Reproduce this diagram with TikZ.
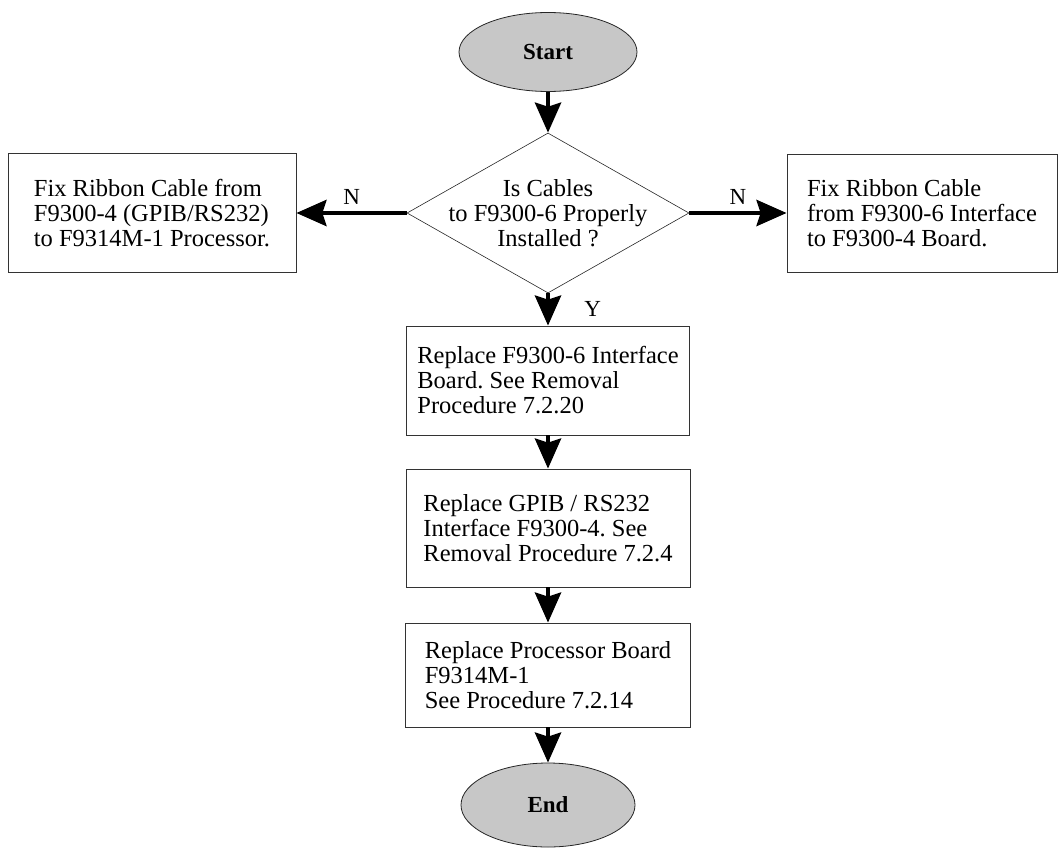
\documentclass[tikz,border=0pt]{standalone}
\usepackage{fontspec}
\setmainfont{Liberation Serif}
\usepackage{tikz}
\usetikzlibrary{arrows.meta,positioning,shapes.geometric}
\frenchspacing

\begin{document}
\begin{tikzpicture}[x=1pt,y=-1pt,
    every node/.style={font=\fontsize{24.5}{25}\selectfont},
    terminal/.style={ellipse, draw=black!85, line width=0.8pt, fill=black!22,
      font=\fontsize{23}{24}\selectfont\bfseries},
    procbox/.style={rectangle, draw=black!80, line width=0.8pt, align=left, inner sep=0pt},
    decision/.style={diamond, draw=black!85, line width=0.6pt, inner sep=0pt},
    flow/.style={-{Stealth[length=30pt,width=26pt,inset=4pt]}, line width=4.5pt},
    answer/.style={inner sep=0pt, font=\fontsize{23}{24}\selectfont}]
    \useasboundingbox (0,0) rectangle (1059,848);
    % Start
    \node[terminal, minimum width=178pt, minimum height=79pt] (start) at (548,52) {Start};
    % Question
    \node[decision, minimum width=282pt, minimum height=160pt] (query) at (548,213) {};
    \node[align=center, inner sep=0pt] (querytext) at (query.center)
      {Is Cables\\to F9300-6 Properly\\Installed ?};
    % Side fixes
    \node[procbox, minimum width=288pt, minimum height=119pt] (fixleft) at (152,213)
      {Fix Ribbon Cable from\\F9300-4 (GPIB/RS232)\\to F9314M-1 Processor.};
    \node[procbox, minimum width=270pt, minimum height=118pt] (fixright) at (922,213)
      {Fix Ribbon Cable\\from F9300-6 Interface\\to F9300-4 Board.};
    % Replacement steps
    \node[procbox, minimum width=283pt, minimum height=109pt] (board) at (548,380.5)
      {Replace F9300-6 Interface\\Board. See Removal\\Procedure 7.2.20};
    \node[procbox, minimum width=284pt, minimum height=118pt] (gpib) at (548,528)
      {Replace GPIB / RS232\\Interface F9300-4. See\\Removal Procedure 7.2.4};
    \node[procbox, minimum width=285pt, minimum height=104pt] (cpu) at (548,675)
      {Replace Processor Board\\F9314M-1\\See Procedure 7.2.14};
    % End
    \node[terminal, minimum width=174pt, minimum height=84pt] (finish) at (548,805) {End};
    % Arrows
    \draw[flow] (start) -- (query);
    \draw[flow] (query.west) -- node[answer, above=6pt] (noleft) {N} (fixleft.east);
    \draw[flow] (query.east) -- node[answer, above=6pt] (noright) {N} (fixright.west);
    \draw[flow] (query.south) -- node[answer, right=34pt] (yes) {Y} (board.north);
    \draw[flow] (board) -- (gpib);
    \draw[flow] (gpib) -- (cpu);
    \draw[flow] (cpu) -- (finish);
\end{tikzpicture}
\end{document}
